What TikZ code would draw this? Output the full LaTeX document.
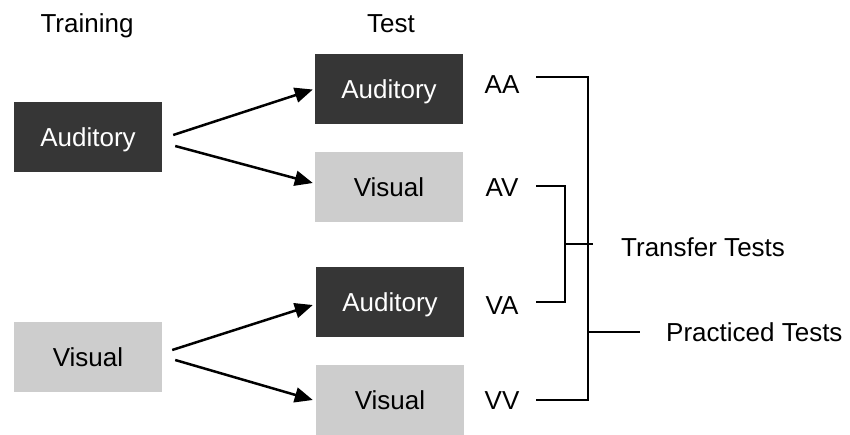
\documentclass[tikz,border=0pt]{standalone}
\usepackage{fontspec}
\setmainfont{Liberation Sans}
\usetikzlibrary{arrows.meta}
\definecolor{boxdark}{HTML}{363636}
\definecolor{boxlight}{HTML}{CDCDCD}
\begin{document}
\begin{tikzpicture}[x=1pt,y=-1pt,
  txt/.style={font=\fontsize{26}{31}\selectfont,inner sep=0pt,text height=18.6pt,text depth=0pt},
  box/.style={txt,minimum width=148pt,minimum height=70pt},
  darkbox/.style={box,fill=boxdark,text=white},
  lightbox/.style={box,fill=boxlight,text=black},
  arr/.style={line width=2.5pt,-{Triangle[length=18pt,width=15pt]}},
  brk/.style={line width=2.2pt}]
\useasboundingbox (0,0) rectangle (850,435);
\fill[white] (0,0) rectangle (850,435);
% headings
\node[txt] (trn) at (87,23.5) {Training};
\node[txt] (tst) at (391,23.5) {Test};
% training boxes
\node[darkbox] (ta) at (88,137) {Auditory};
\node[lightbox] (tv) at (88,357) {Visual};
% test boxes
\node[darkbox] (a1) at (389,89.5) {Auditory};
\node[lightbox] (v1) at (389,187) {Visual};
\node[darkbox] (a2) at (390,302) {Auditory};
\node[lightbox] (v2) at (390,400) {Visual};
% arrows
\draw[arr] ([xshift=11pt,yshift=2pt]ta.east) -- ([xshift=-2pt]a1.west);
\draw[arr] ([xshift=13pt,yshift=-9pt]ta.east) -- ([xshift=-2pt,yshift=4pt]v1.west);
\draw[arr] ([xshift=10pt,yshift=7pt]tv.east) -- ([xshift=-3pt,yshift=-3pt]a2.west);
\draw[arr] ([xshift=13pt,yshift=-3pt]tv.east) -- ([xshift=-3pt]v2.west);
% condition labels
\node[txt] (aa) at (502,84) {AA};
\node[txt] (av) at (502,187) {AV};
\node[txt] (va) at (502,305) {VA};
\node[txt] (vv) at (502,400) {VV};
% bracket coordinates
\coordinate (aaS) at (536,77);
\coordinate (avS) at (536,186);
\coordinate (vaS) at (536,302);
\coordinate (vvS) at (536,400);
\coordinate (outX) at (588,77);
\coordinate (inX) at (565,186);
\coordinate (trA) at (565,244);
\coordinate (trB) at (593,244);
\coordinate (prA) at (588,332);
\coordinate (prB) at (640,332);
% brackets
\draw[brk] (aaS) -- (outX) -- (outX |- vvS) -- (vvS);
\draw[brk] (avS) -- (inX) -- (inX |- vaS) -- (vaS);
\draw[brk] (trA) -- (trB);
\draw[brk] (prA) -- (prB);
% group labels
\node[txt,anchor=west] (tr) at (621,247) {Transfer Tests};
\node[txt,anchor=west] (pr) at (666,332) {Practiced Tests};
\end{tikzpicture}
\end{document}
